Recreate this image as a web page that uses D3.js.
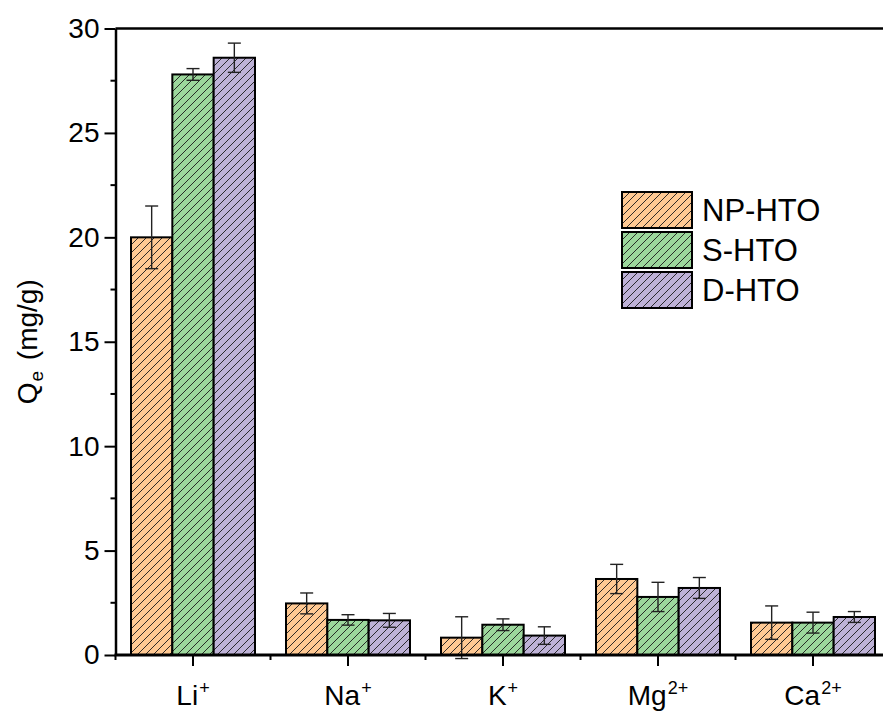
<!DOCTYPE html>
<html>
<head>
<meta charset="utf-8">
<script src="https://cdn.jsdelivr.net/npm/d3@7"></script>
<style>
  body { margin: 0; background: #fff; }
  svg { display: block; font-family: Arial, "Liberation Sans", sans-serif; }
</style>
</head>
<body>
<svg id="chart" width="883" height="713"></svg>
<script>
// Ion categories and adsorbents
const categories = ["Li", "Na", "K", "Mg", "Ca"];
const charges = ["+", "+", "+", "2+", "2+"];
const seriesNames = ["NP-HTO", "S-HTO", "D-HTO"];
const seriesColors = ["#FFC993", "#9CD79C", "#BEB2D7"];

// Adsorption capacity Qe (mg/g), one value per ion
const npHTO = [20.0, 2.47, 0.83, 3.64, 1.55];
const sHTO  = [27.8, 1.68, 1.45, 2.78, 1.55];
const dHTO  = [28.6, 1.66, 0.93, 3.21, 1.82];
// Error bar half-widths
const npErr = [1.5, 0.50, 1.00, 0.70, 0.80];
const sErr  = [0.28, 0.25, 0.28, 0.70, 0.50];
const dErr  = [0.70, 0.33, 0.42, 0.50, 0.26];

const yTicks = [0, 5, 10, 15, 20, 25, 30];

const values = [npHTO, sHTO, dHTO];
const errors = [npErr, sErr, dErr];

const svg = d3.select("#chart");
const plotLeft = 115.5, plotTop = 28.5, plotBottom = 655;
const groupWidth = 155;
const plotRight = plotLeft + groupWidth * categories.length;

const x = d3.scaleBand().domain(categories).range([plotLeft, plotRight]).paddingInner(0.2).paddingOuter(0.1);
const xs = d3.scaleBand().domain(seriesNames).range([0, x.bandwidth()]);
const y = d3.scaleLinear().domain([0, 30]).range([plotBottom, plotTop]);

// Diagonal hatch patterns, one per series colour
const defs = svg.append("defs");
seriesNames.forEach((name, i) => {
  const p = defs.append("pattern")
    .attr("id", "hatch" + i)
    .attr("patternUnits", "userSpaceOnUse")
    .attr("width", 8).attr("height", 8);
  p.append("rect").attr("width", 8).attr("height", 8).attr("fill", seriesColors[i]);
  p.append("path")
    .attr("d", "M-2,2 L2,-2 M0,8 L8,0 M6,10 L10,6")
    .attr("stroke", "#1a1a1a").attr("stroke-width", 0.9);
});

// Bars
seriesNames.forEach((name, si) => {
  const g = svg.append("g");
  g.selectAll("rect").data(categories).join("rect")
    .attr("x", c => x(c) + xs(name))
    .attr("y", (c, ci) => y(values[si][ci]))
    .attr("width", xs.bandwidth())
    .attr("height", (c, ci) => y(0) - y(values[si][ci]))
    .attr("fill", "url(#hatch" + si + ")")
    .attr("stroke", "#000").attr("stroke-width", 2);
});

// Error bars
seriesNames.forEach((name, si) => {
  const g = svg.append("g").attr("stroke", "#222").attr("stroke-width", 1.4);
  categories.forEach((c, ci) => {
    const cx = x(c) + xs(name) + xs.bandwidth() / 2;
    const hi = y(values[si][ci] + errors[si][ci]);
    const lo = y(values[si][ci] - errors[si][ci]);
    g.append("line").attr("x1", cx).attr("x2", cx).attr("y1", hi).attr("y2", lo);
    g.append("line").attr("x1", cx - 6.5).attr("x2", cx + 6.5).attr("y1", hi).attr("y2", hi);
    g.append("line").attr("x1", cx - 6.5).attr("x2", cx + 6.5).attr("y1", lo).attr("y2", lo);
  });
});

// Y axis with minor ticks
const yAxis = svg.append("g").attr("transform", `translate(${plotLeft},0)`);
yAxis.call(d3.axisLeft(y).tickValues(yTicks).tickSize(11).tickSizeOuter(0).tickPadding(5));
yAxis.selectAll(".tick line").attr("stroke-width", 2);
yAxis.selectAll("text").attr("font-size", 28).attr("fill", "#000")
  .attr("font-family", "Arial, 'Liberation Sans', sans-serif");
yAxis.select(".domain").attr("stroke-width", 2.5);
const minorY = d3.range(2.5, 30, 5);
svg.append("g").selectAll("line").data(minorY).join("line")
  .attr("x1", plotLeft - 5).attr("x2", plotLeft).attr("y1", d => y(d)).attr("y2", d => y(d))
  .attr("stroke", "#000").attr("stroke-width", 2);

// X axis: major ticks at category centres, minor ticks between groups
const xAxis = svg.append("g").attr("transform", `translate(0,${plotBottom})`);
xAxis.append("line").attr("x1", plotLeft - 1).attr("x2", plotRight).attr("y1", 0).attr("y2", 0)
  .attr("stroke", "#000").attr("stroke-width", 3);
xAxis.selectAll(".maj").data(categories).join("line").attr("class", "maj")
  .attr("x1", c => x(c) + x.bandwidth() / 2).attr("x2", c => x(c) + x.bandwidth() / 2)
  .attr("y1", 0).attr("y2", 11).attr("stroke", "#000").attr("stroke-width", 2);
xAxis.selectAll(".min").data(categories).join("line").attr("class", "min")
  .attr("x1", c => x(c) + x.bandwidth() / 2 - groupWidth / 2)
  .attr("x2", c => x(c) + x.bandwidth() / 2 - groupWidth / 2)
  .attr("y1", 0).attr("y2", 5).attr("stroke", "#000").attr("stroke-width", 2);
const labels = xAxis.selectAll("text").data(categories).join("text")
  .attr("x", c => x(c) + x.bandwidth() / 2)
  .attr("y", 50)
  .attr("text-anchor", "middle")
  .attr("font-size", 28)
  .attr("fill", "#000");
labels.append("tspan").text(c => c);
labels.append("tspan").text((c, i) => charges[i])
  .attr("font-size", 18).attr("dx", 1).attr("dy", -11);

// Top frame line
svg.append("line").attr("x1", plotLeft).attr("x2", plotRight).attr("y1", plotTop).attr("y2", plotTop)
  .attr("stroke", "#000").attr("stroke-width", 2.5);

// Y axis title
const yTitle = svg.append("text")
  .attr("transform", `translate(37,${(plotTop + plotBottom) / 2}) rotate(-90)`)
  .attr("text-anchor", "middle").attr("font-size", 28).attr("fill", "#000");
yTitle.append("tspan").text("Q");
yTitle.append("tspan").text("e").attr("font-size", 19).attr("dx", 1).attr("dy", 6);
yTitle.append("tspan").text(" (mg/g)").attr("dx", 3).attr("dy", -6);

// Legend
const legend = svg.append("g").attr("transform", "translate(622,192)");
seriesNames.forEach((name, i) => {
  const row = legend.append("g").attr("transform", `translate(0,${i * 40})`);
  row.append("rect").attr("width", 70).attr("height", 36)
    .attr("fill", "url(#hatch" + i + ")").attr("stroke", "#000").attr("stroke-width", 2);
  row.append("text").attr("x", 80).attr("y", 29).attr("font-size", 31)
    .attr("fill", "#000").text(name);
});
</script>
</body>
</html>
